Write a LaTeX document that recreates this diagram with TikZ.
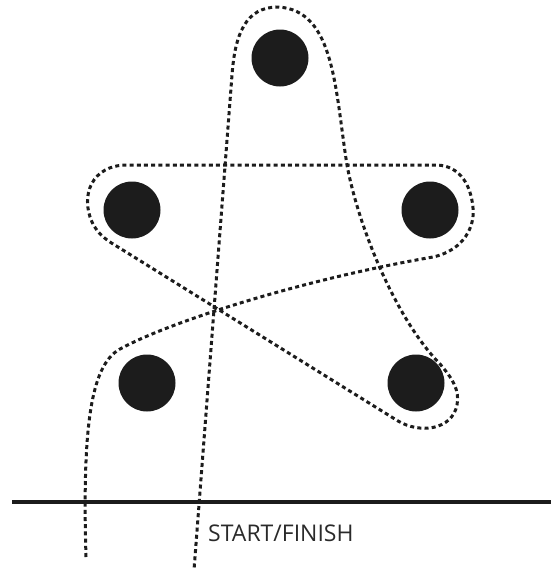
\documentclass[tikz,border=0pt]{standalone}
\usepackage{fontspec}
\setmainfont{Open Sans}
\definecolor{ink}{HTML}{1C1C1C}
\definecolor{txt}{HTML}{2A2A2A}
\tikzset{
  dot/.style={circle, fill=ink, draw=none, minimum size=57pt, inner sep=0pt},
  route/.style={draw=ink, line width=3pt, dash pattern=on 4pt off 3.2pt},
  groundline/.style={draw=ink, line width=3.6pt},
  lbl/.style={text=txt, font=\fontsize{23}{25}\selectfont, anchor=base west, inner sep=0pt}
}
\begin{document}
\begin{tikzpicture}[x=1pt, y=-1pt]
\useasboundingbox (0,0) rectangle (551,576);
% dots
\node[dot] (top) at (280,58) {};
\node[dot] (left) at (132,210) {};
\node[dot] (right) at (430,210) {};
\node[dot] (bl) at (147,383) {};
\node[dot] (br) at (416,383) {};
% ground line
\coordinate (g1) at (12,502);
\coordinate (g2) at (551,502);
\draw[groundline] (g1) -- (g2);
% label
\node[lbl] (startfinish) at (208,541) {START/FINISH};
% the route
\coordinate (s) at (86,557);
\coordinate (e) at (194,570);
\draw[route] (s)
  .. controls (82,420) and (92,362) .. (122,348)
  .. controls (170,322) and (300,280) .. (433,257)
  .. controls (465,250) and (475,225) .. (473,208)
  .. controls (471,185) and (460,166) .. (437,165)
  -- (127,165)
  .. controls (92,165) and (80,195) .. (92,222)
  .. controls (98,235) and (108,241) .. (118,247)
  -- (398,421)
  .. controls (420,434) and (452,430) .. (457,405)
  .. controls (460,390) and (452,378) .. (440,364)
  .. controls (395,318) and (358,225) .. (347,165)
  .. controls (335,90) and (335,10) .. (278,7)
  .. controls (245,7) and (235,35) .. (232,75)
  -- (e);
\end{tikzpicture}
\end{document}
